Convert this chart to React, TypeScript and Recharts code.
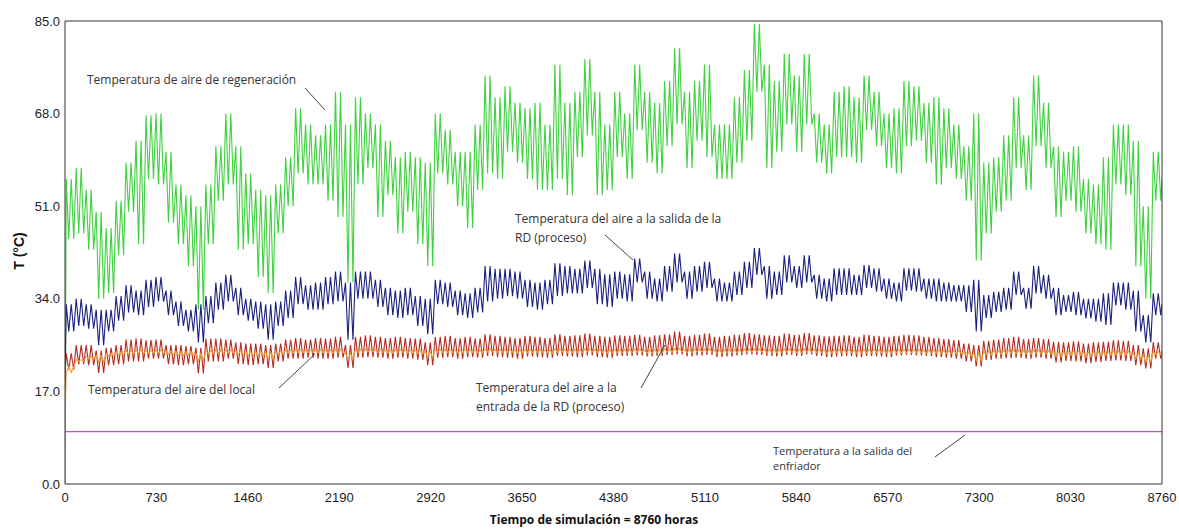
import { LineChart, Line, XAxis, YAxis } from "recharts";

// hour axis (8760 h simulation)
const hourTicks = [0, 730, 1460, 2190, 2920, 3650, 4380, 5110, 5840, 6570, 7300, 8030, 8760];
const hourMinorTicks = Array.from({ length: 49 }, (_, i) => i * 182.5);
const tempTicks = [0, 17, 34, 51, 68, 85];
const tempMinorTicks = Array.from({ length: 21 }, (_, i) => i * 4.25);

// daily swing: one high / low pair per ~80 h slot
const regenHi = [
  56, 58, 54, 50, 47, 52, 59, 63, 67.7, 68,
  61, 55, 53, 51, 55, 62, 68, 62, 57, 54,
  53, 55, 60, 69, 66, 64, 66, 72, 66, 71,
  68, 66, 63, 60, 61, 60, 59, 68, 65, 61,
  61, 66, 75, 71, 73, 70, 69, 70, 66, 77,
  70, 72, 78, 72, 66, 72, 68, 77, 72, 70,
  74, 80, 72, 74, 77, 66, 66, 71, 76, 84.5,
  77, 74, 79, 75, 79, 68, 66, 72, 73, 71,
  75, 72, 68, 69, 74, 73, 70, 71, 69, 66,
  62, 68, 59, 60, 64, 71, 64, 75, 70, 62,
  61, 62, 56, 55, 60, 66, 66, 63, 51, 61,
];
const regenLo = [
  45, 46, 43, 34, 35, 42, 50, 44, 56, 55,
  48, 44, 40, 32, 44, 52, 55, 43, 44, 38,
  35, 46, 51, 57, 55, 55, 52, 49, 37, 55,
  58, 49, 53, 46, 50, 44, 40, 57, 55, 51,
  47, 54, 57, 56, 61, 59, 56, 54, 54, 56,
  53, 60, 64, 53, 54, 60, 56, 65, 59, 57,
  62, 66, 58, 63, 60, 56, 56, 59, 63, 72,
  58, 61, 66, 61, 66, 59, 57, 60, 60, 59,
  65, 62, 58, 57, 62, 63, 59, 55, 58, 56,
  52, 41, 46, 50, 52, 58, 54, 62, 58, 49,
  52, 50, 46, 44, 43, 55, 53, 40, 34, 52,
];

const outletHi = [
  33, 34, 33, 32, 32, 34.5, 36.5, 35.5, 37.5, 38,
  35.5, 33.5, 32, 33, 34.5, 37, 38.4, 36, 34, 33.5,
  33, 33.5, 35.5, 38, 36.5, 37, 38, 39, 37, 39,
  39, 37.5, 36, 35.5, 36, 34.5, 34, 37.5, 37, 35.5,
  35, 36, 40, 39.5, 39.5, 39, 37.5, 37, 37.5, 40.5,
  40, 39.5, 41, 39.5, 38.5, 39, 38.5, 41.4, 39, 37.7,
  40, 42.3, 39, 40, 40.8, 37.7, 37, 39, 40.8, 43.3,
  40, 39, 42, 40, 42, 38.4, 37.7, 39.6, 39.6, 38.4,
  40.2, 39.6, 37.7, 37, 39.6, 39.6, 37.7, 37.7, 37, 36.5,
  36.5, 37.5, 34.7, 35.3, 36, 39, 36, 40, 38.4, 36,
  34.7, 35.3, 34, 34, 35, 37, 37, 35.5, 31, 35,
];
const outletLo = [
  28, 29, 28.5, 25.5, 28, 30, 31.5, 31, 32.5, 33.5,
  31, 29, 28, 26, 29.5, 32, 33.5, 31, 30, 28.5,
  26.5, 29, 30.5, 33, 32, 32, 33, 33.5, 26.5, 34,
  34, 32.5, 31, 30.5, 31, 29, 27.5, 33, 32.5, 31,
  30.5, 31.5, 33.5, 34, 34.5, 34, 32.5, 32, 33, 34.5,
  35, 35, 36, 33, 32.5, 34, 33.5, 37, 34, 33.5,
  35.3, 37, 34, 35.3, 36, 33.5, 33.5, 34.7, 36, 38.4,
  34, 34.7, 37, 36, 37, 34, 33.5, 34.7, 34.7, 34.7,
  36, 35.3, 34, 33.5, 35.5, 35.3, 34, 33.5, 33.5, 33.5,
  31.6, 28, 30.5, 31.6, 32, 34.7, 32.2, 35, 34, 31,
  31.6, 31, 30.4, 29.8, 29.2, 32.8, 32, 28, 26, 31,
];

const inletHi = [
  24, 25.5, 25.5, 24.5, 25, 25.5, 26.5, 26.7, 26.4, 26.5,
  25.5, 25.5, 25.3, 25, 26.7, 26.7, 26.5, 26, 25.8, 25.8,
  25.5, 25.8, 26.5, 26.8, 26.5, 26.8, 26.7, 27, 25.5, 27,
  27.3, 27, 26.8, 27, 26.8, 26.7, 26, 27, 27.2, 26.8,
  27, 26.7, 27.5, 27.2, 27, 26.8, 27.2, 27, 26.8, 27.5,
  27.2, 27.3, 27.6, 27.2, 27, 27.3, 27.2, 27.4, 27, 27.3,
  27.5, 28, 27.2, 27.4, 27.6, 27, 27.2, 27.4, 27.7, 27.5,
  27.3, 27.2, 27.6, 27.4, 27.7, 27.3, 27.1, 27.2, 27.3, 27,
  27.4, 27.2, 27, 27.2, 27.4, 27.3, 27, 26.8, 26.6, 26.4,
  25.8, 25.5, 26.3, 26.5, 26.8, 27, 26.6, 26.8, 26.6, 26.1,
  26, 26.2, 25.8, 26, 26.1, 26.4, 26.3, 25.5, 24.9, 26,
];
const inletLo = [
  21, 22, 21.8, 20.4, 21.8, 22, 22.5, 22.5, 23, 23,
  22, 21.8, 22, 20.3, 22.5, 22.5, 23, 22, 21.8, 22,
  21.3, 22.5, 23, 23, 23.2, 23, 23, 23.2, 21.3, 23.2,
  23.3, 23.2, 23, 23.2, 23, 22.8, 21.8, 23.2, 23.3, 23,
  23.3, 23.2, 23.5, 23.3, 23.2, 23, 23.4, 23.3, 23.2, 23.5,
  23.4, 23.3, 23.6, 23.3, 23.2, 23.5, 23.5, 23.6, 23.4, 23.5,
  23.7, 23.8, 23.4, 23.6, 23.7, 23.3, 23.4, 23.6, 23.8, 23.7,
  23.5, 23.4, 23.7, 23.5, 23.8, 23.5, 23.3, 23.4, 23.5, 23.3,
  23.5, 23.4, 23.3, 23.6, 23.7, 23.6, 23.5, 23.3, 23.2, 23,
  22.5, 21.6, 22.8, 23, 23.1, 23.2, 23, 23.2, 23, 22.3,
  22.6, 22.5, 22.2, 22.4, 22.6, 22.7, 22.6, 21.8, 21.2, 23,
];

const roomHi = [
  20.5, 22.8, 23.4, 23.6, 24, 24.2, 24.5, 24.6, 24.5, 24.6,
  24.4, 24.3, 24.3, 24, 24.5, 24.6, 24.6, 24.4, 24.3, 24.3,
  24.2, 24.4, 24.6, 24.7, 24.6, 24.7, 24.6, 24.7, 24, 24.7,
  24.8, 24.7, 24.6, 24.7, 24.6, 24.6, 24.3, 24.7, 24.7, 24.6,
  24.7, 24.6, 24.8, 24.7, 24.7, 24.6, 24.7, 24.7, 24.6, 24.8,
  24.7, 24.7, 24.8, 24.7, 24.6, 24.7, 24.7, 24.8, 24.6, 24.7,
  24.8, 24.9, 24.7, 24.8, 24.8, 24.6, 24.7, 24.7, 24.8, 24.8,
  24.7, 24.7, 24.8, 24.7, 24.8, 24.7, 24.6, 24.7, 24.7, 24.6,
  24.7, 24.7, 24.6, 24.7, 24.7, 24.7, 24.6, 24.6, 24.5, 24.5,
  24.2, 24, 24.4, 24.5, 24.6, 24.6, 24.5, 24.6, 24.5, 24.3,
  24.3, 24.4, 24.2, 24.3, 24.3, 24.4, 24.4, 24, 23.6, 24.3,
];
const roomLo = [
  21.5, 22.6, 23, 22.4, 23.5, 23.7, 23.9, 24, 24, 24,
  23.8, 23.6, 23.7, 22.6, 23.9, 24, 24, 23.8, 23.6, 23.6,
  23, 23.8, 24, 24.1, 24.1, 24.1, 24, 24.1, 22.9, 24.1,
  24.2, 24.1, 24, 24.1, 24, 23.9, 23.2, 24.1, 24.1, 24,
  24.1, 24, 24.2, 24.1, 24.1, 24, 24.1, 24.1, 24, 24.2,
  24.1, 24.1, 24.2, 24.1, 24, 24.1, 24.1, 24.2, 24, 24.1,
  24.2, 24.3, 24.1, 24.2, 24.2, 24, 24.1, 24.1, 24.2, 24.2,
  24.1, 24.1, 24.2, 24.1, 24.2, 24.1, 24, 24.1, 24.1, 24,
  24.1, 24.1, 24, 24.1, 24.1, 24.1, 24, 24, 23.9, 23.9,
  23.5, 22.6, 23.6, 23.8, 23.9, 23.9, 23.8, 23.9, 23.8, 23.4,
  23.6, 23.6, 23.4, 23.5, 23.6, 23.7, 23.6, 23, 22.4, 23.7,
];

// values at the first and last hour
const startTemps = [0, 18, 20, 11]; // regen, outlet, inlet, room
const endTemps = [56, 33, 24.5, 24];
const chillerTemp = 9.6;

// each ~80 h slot holds about two daily swings between its high and low
const slot = 8760 / regenHi.length;
const rows: any[] = [
  { hour: 0, regen: startTemps[0], outlet: startTemps[1], inlet: startTemps[2], room: startTemps[3], chiller: chillerTemp },
];
regenHi.forEach((_, k) => {
  [0.125, 0.375, 0.625, 0.875].forEach((f, j) => {
    const high = j % 2 === 0;
    rows.push({
      hour: k * slot + slot * f,
      regen: high ? regenHi[k] : regenLo[k],
      outlet: high ? outletHi[k] : outletLo[k],
      inlet: high ? inletHi[k] : inletLo[k],
      room: high ? roomHi[k] : roomLo[k],
      chiller: chillerTemp,
    });
  });
});
rows.push({ hour: 8760, regen: endTemps[0], outlet: endTemps[1], inlet: endTemps[2], room: endTemps[3], chiller: chillerTemp });

const axisColor = "#333";
const tickFont = { fill: "#222", fontSize: 13, fontFamily: "'Liberation Sans', Arial, sans-serif" };

export default function App() {
  return (
    <div style={{ position: "absolute", left: 0, top: 0, width: 1179, height: 529, background: "#fff" }}>
      <LineChart width={1179} height={529} data={rows} margin={{ top: 21, right: 17, bottom: 0, left: 0 }}>
        <XAxis
          dataKey="hour"
          type="number"
          domain={[0, 8760]}
          ticks={hourTicks}
          height={45}
          tickLine={false}
          tickSize={0}
          tickMargin={9}
          stroke={axisColor}
          tick={tickFont}
          allowDataOverflow
        />
        <XAxis xAxisId="minor" dataKey="hour" type="number" domain={[0, 8760]} ticks={hourMinorTicks}
          mirror tick={false} tickSize={3} axisLine={false} stroke={axisColor} allowDataOverflow />
        <XAxis xAxisId="top" dataKey="hour" type="number" domain={[0, 8760]} orientation="top"
          mirror tick={false} tickLine={false} stroke={axisColor} allowDataOverflow />
        <YAxis
          type="number"
          domain={[0, 85]}
          ticks={tempTicks}
          width={65}
          tickFormatter={(v: number) => v.toFixed(1)}
          tickLine={false}
          tickSize={0}
          tickMargin={5}
          stroke={axisColor}
          tick={tickFont}
          allowDataOverflow
        />
        <YAxis yAxisId="minorL" type="number" domain={[0, 85]} ticks={tempMinorTicks}
          mirror tick={false} tickSize={3} axisLine={false} stroke={axisColor} allowDataOverflow />
        <YAxis yAxisId="right" type="number" domain={[0, 85]} ticks={tempMinorTicks} orientation="right"
          mirror tick={false} tickSize={3} stroke={axisColor} allowDataOverflow />

        <Line dataKey="chiller" type="linear" stroke="#d04ad6" strokeWidth={1.3} dot={false} activeDot={false} isAnimationActive={false} />
        <Line dataKey="regen" type="linear" stroke="#3fd13f" strokeWidth={1.1} dot={false} activeDot={false} isAnimationActive={false} />
        <Line dataKey="outlet" type="linear" stroke="#1b2080" strokeWidth={1.1} dot={false} activeDot={false} isAnimationActive={false} />
        <Line dataKey="inlet" type="linear" stroke="#b62a20" strokeWidth={1.1} dot={false} activeDot={false} isAnimationActive={false} />
        <Line dataKey="room" type="linear" stroke="#eea234" strokeWidth={1.1} dot={false} activeDot={false} isAnimationActive={false} />
      </LineChart>

      {/* annotations */}
      <svg width={1179} height={529} style={{ position: "absolute", left: 0, top: 0, pointerEvents: "none" }}>
        <g fill="#333" fontFamily="'Open Sans', sans-serif" fontSize={12}>
          <text x={87} y={84}>Temperatura de aire de regeneración</text>
          <text x={515} y={223}>Temperatura del aire a la salida de la</text>
          <text x={515} y={242}>RD (proceso)</text>
          <text x={88} y={394}>Temperatura del aire del local</text>
          <text x={476} y={392}>Temperatura del aire a la</text>
          <text x={476} y={411}>entrada de la RD (proceso)</text>
          <text x={773} y={455} fontSize={11}>Temperatura a la salida del</text>
          <text x={773} y={470} fontSize={11}>enfriador</text>
        </g>
        <g stroke="#444" strokeWidth={1}>
          <line x1={305} y1={88} x2={325} y2={110} />
          <line x1={605} y1={235} x2={633} y2={260} />
          <line x1={279} y1={388} x2={315} y2={354} />
          <line x1={641} y1={388} x2={665} y2={345} />
          <line x1={935} y1={457} x2={965} y2={435} />
        </g>
        <text x={594} y={524} textAnchor="middle" fontWeight="bold" fontSize={12}
          fontFamily="'Open Sans', sans-serif" fill="#111">
          Tiempo de simulación = 8760 horas
        </text>
        <text transform="translate(24,251) rotate(-90)" textAnchor="middle" fontWeight="bold" fontSize={14}
          fontFamily="'Liberation Sans', Arial, sans-serif" fill="#111">
          T (°C)
        </text>
      </svg>
    </div>
  );
}
